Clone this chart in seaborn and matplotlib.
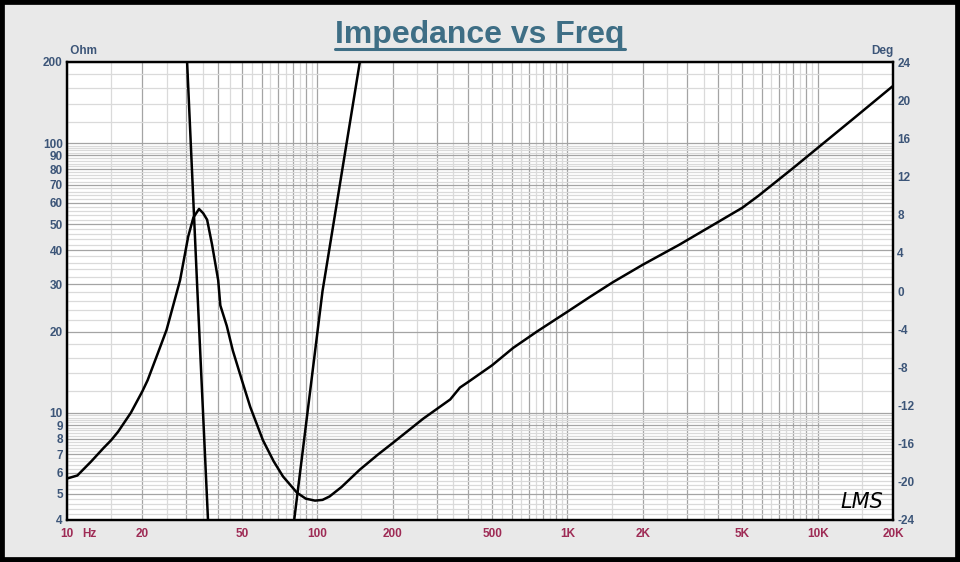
import numpy as np
import pandas as pd
import matplotlib.pyplot as plt
import matplotlib.ticker as mticker
from matplotlib.lines import Line2D
from matplotlib.patches import Rectangle
import seaborn as sns

# impedance magnitude (Ohm)
freq_z = [10, 11, 12.5, 14, 15, 16, 18, 20, 21, 23, 25, 28.3, 30.5, 32, 33.7, 35, 36.3,
          38, 40.2, 41, 43.5, 46, 50, 54, 60.7, 67, 73, 83, 90, 98, 105, 112, 125, 148,
          175, 201, 265, 340, 372, 401, 500, 607, 755, 1000, 1230, 1520, 2000, 2800,
          4000, 5000, 5800, 8000, 10000, 14000, 20000]
impedance = [5.7, 5.85, 6.6, 7.4, 7.9, 8.5, 10.0, 12.0, 13.2, 16.5, 20.3, 31, 45, 53, 57,
             55, 52, 42, 31, 25, 21, 17, 13.2, 10.5, 7.9, 6.6, 5.8, 5.05, 4.8, 4.72, 4.75,
             4.89, 5.3, 6.15, 7.0, 7.74, 9.5, 11.2, 12.4, 13.0, 15.0, 17.4, 20.0, 23.7,
             26.9, 30.5, 35.4, 42, 51, 57.6, 63.8, 81, 96, 124, 163]

# phase (deg), only the part inside +-24 is visible
freq_ph = [10, 20, 28, 30.2, 33.2, 36.6, 40, 60, 78, 80.9, 105, 148, 160, 1000, 20000]
phase = [80, 60, 40, 24, 0, -24, -40, -50, -35, -24, 0, 24, 35, 70, 80]

x_labels = {10: "10", 20: "20", 50: "50", 100: "100", 200: "200", 500: "500",
            1000: "1K", 2000: "2K", 5000: "5K", 10000: "10K", 20000: "20K"}
ohm_labels = [4, 5, 6, 7, 8, 9, 10, 20, 30, 40, 50, 60, 70, 80, 90, 100, 200]
deg_ticks = list(range(-24, 25, 4))

blue = "#3c5578"
maroon = "#9e2b55"

sns.set_style("white")
plt.rcParams["font.family"] = ["Liberation Sans", "DejaVu Sans"]
plt.rcParams["axes.unicode_minus"] = False

fig = plt.figure(figsize=(9.6, 5.62), dpi=100, facecolor="#e9e9e9")
ax = fig.add_axes([67 / 960, 1 - 520 / 562, (893 - 67) / 960, (520 - 62) / 562])
ax.set_facecolor("white")

df_z = pd.DataFrame({"freq": freq_z, "ohm": impedance})
df_p = pd.DataFrame({"freq": freq_ph, "deg": phase})

ax.set_xscale("log")
ax.set_yscale("log")
sns.lineplot(data=df_z, x="freq", y="ohm", ax=ax, color="black", lw=1.8)
ax.set_xlim(10, 20000)
ax.set_ylim(4, 200)

# grid positions: integer multiples (darker) and sub-steps (lighter)
x_major, x_minor = [], []
for dec in [10, 100, 1000, 10000]:
    for k in range(1, 10):
        if k * dec <= 20000:
            x_major.append(k * dec)
        if (k + 0.5) * dec < 20000:
            x_minor.append((k + 0.5) * dec)

y_major, y_minor = [], []
for dec in [1, 10, 100]:
    for k in range(1, 10):
        v = k * dec
        if 4 <= v <= 200:
            y_major.append(v)
        for j in range(1, 5):
            w = (k + 0.2 * j) * dec
            if 4 < w < 200:
                y_minor.append(w)

ax.xaxis.set_major_locator(mticker.FixedLocator(x_major))
ax.xaxis.set_minor_locator(mticker.FixedLocator(x_minor))
ax.xaxis.set_major_formatter(mticker.FixedFormatter([x_labels.get(v, "") for v in x_major]))
ax.xaxis.set_minor_formatter(mticker.NullFormatter())
ax.yaxis.set_major_locator(mticker.FixedLocator(y_major))
ax.yaxis.set_minor_locator(mticker.FixedLocator(y_minor))
ax.yaxis.set_major_formatter(mticker.FixedFormatter(
    [str(int(v)) if v in ohm_labels else "" for v in y_major]))
ax.yaxis.set_minor_formatter(mticker.NullFormatter())

ax.grid(which="major", color="#a4a4a4", lw=0.9)
ax.grid(which="minor", color="#dadada", lw=0.9)
ax.set_axisbelow(True)
ax.tick_params(which="both", length=0)
ax.tick_params(axis="x", pad=6, labelsize=8.5, labelcolor=maroon)
ax.tick_params(axis="y", pad=3, labelsize=8.5, labelcolor=blue)
for lab in ax.get_xticklabels() + ax.get_yticklabels():
    lab.set_fontweight("bold")
ax.set_xlabel("")
ax.set_ylabel("")

ax2 = ax.twinx()
sns.lineplot(data=df_p, x="freq", y="deg", ax=ax2, color="black", lw=1.8)
ax2.set_ylim(-24, 24)
ax2.set_yticks(deg_ticks)
ax2.set_yticklabels([str(v) for v in deg_ticks], fontweight="bold")
ax2.tick_params(which="both", length=0, pad=3, labelsize=8.5, labelcolor=blue)
ax2.set_ylabel("")
ax2.set_xlabel("")

for a in (ax, ax2):
    for s in a.spines.values():
        s.set_color("black")
        s.set_linewidth(1.6)

ax.text(0.0, 1.012, " Ohm", transform=ax.transAxes, fontsize=8.5, fontweight="bold",
        color=blue, ha="left", va="bottom")
ax.text(1.0, 1.012, "Deg", transform=ax.transAxes, fontsize=8.5, fontweight="bold",
        color=blue, ha="right", va="bottom")
ax.annotate("Hz", xy=(0, 0), xycoords="axes fraction", xytext=(11, -6),
            textcoords="offset points", fontsize=8.5, fontweight="bold",
            color=maroon, ha="left", va="top")
ax.text(0.962, 0.04, "LMS", transform=ax.transAxes, fontsize=15, fontstyle="italic",
        family="DejaVu Sans", fontweight="light", color="black", ha="center", va="center")

title = fig.text(0.5, 1 - 43 / 562, "Impedance vs Freq", ha="center", va="baseline",
                 fontsize=23, fontweight="bold", color="#3e6e85")
fig.canvas.draw()
bb = title.get_window_extent()
fig.add_artist(Line2D([bb.x0 / 960, bb.x1 / 960], [1 - 49 / 562, 1 - 49 / 562],
                      transform=fig.transFigure, color="#3e6e85", lw=2.2))

fig.add_artist(Rectangle((0, 0), 1, 1, transform=fig.transFigure, fill=False,
                         edgecolor="black", lw=7))

fig.savefig("out.png", dpi=100, facecolor=fig.get_facecolor())
